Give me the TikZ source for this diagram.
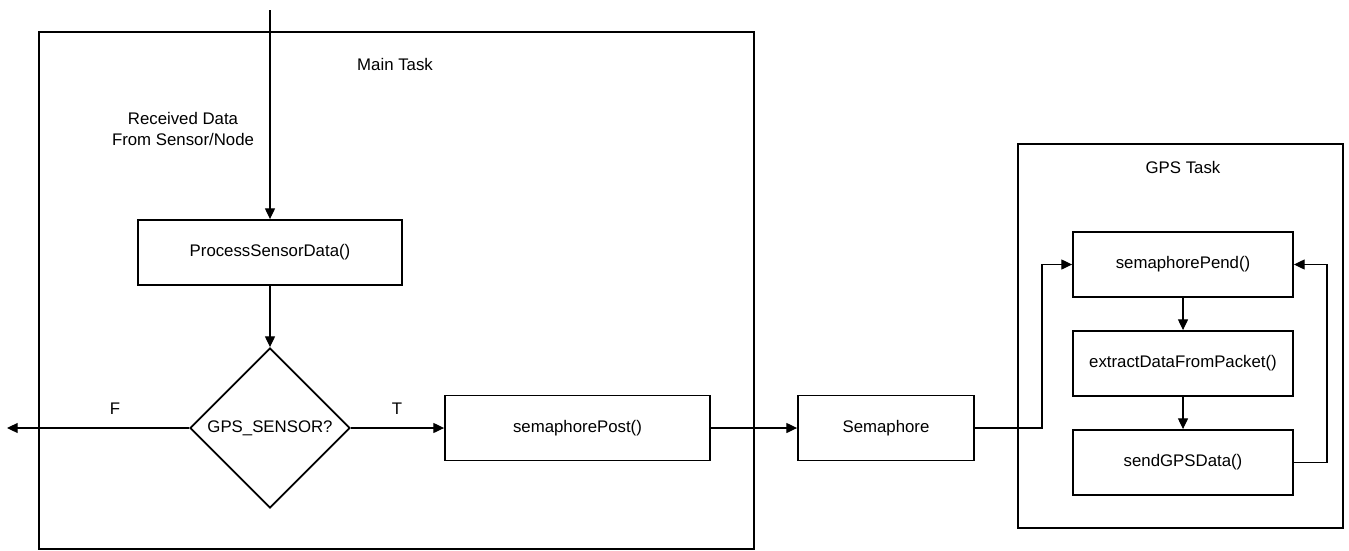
\documentclass[tikz,border=0pt]{standalone}
\usepackage{fontspec}
\setmainfont{Liberation Sans}
\usetikzlibrary{shapes.geometric,arrows.meta}
\begin{document}
\begin{tikzpicture}[x=0.75pt,y=-0.75pt,
  every node/.style={font=\fontsize{12.6}{15.75}\selectfont},
  frame/.style={draw,line width=1.4pt},
  procbox/.style={draw,line width=1.4pt,rectangle,inner sep=0pt,minimum width=198pt,minimum height=48.75pt},
  smallbox/.style={draw,line width=1.4pt,rectangle,inner sep=0pt,minimum width=165pt,minimum height=48.75pt},
  decision/.style={draw,line width=1.4pt,diamond,inner sep=0pt,minimum width=120pt,minimum height=120pt},
  conn/.style={line width=0.8pt,-{Triangle[length=8pt,width=7.5pt]}},
  lbl/.style={inner sep=0pt}
]
\useasboundingbox (0,0) rectangle (1349,550);
% task frames
\draw[frame] (39,32) rectangle (754,549);
\draw[frame] (1018,144) rectangle (1343,528);
\node[lbl] (maintask) at (395,64) {Main Task};
\node[lbl] (gpstask) at (1183,167) {GPS Task};
\node[lbl,align=center] (recv) at (183,128.5) {Received Data\\From Sensor/Node};
% nodes
\node[procbox] (proc) at (270,252.5) {ProcessSensorData()};
\node[decision] (dec) at (270,428) {GPS\_SENSOR?};
\node[procbox,minimum width=198.75pt] (post) at (577.5,428) {semaphorePost()};
\node[procbox,minimum width=132pt] (sem) at (886,428) {Semaphore};
\node[smallbox] (pend) at (1183,264.5) {semaphorePend()};
\node[smallbox] (extract) at (1183,363.5) {extractDataFromPacket()};
\node[smallbox] (send) at (1183,462.5) {sendGPSData()};
% coordinates
\coordinate (top) at (270,10);
\coordinate (fend) at (7,428);
\coordinate (j1) at (1042,428);
\coordinate (j2) at (1042,264.5);
\coordinate (l1) at (1327,462.5);
\coordinate (l2) at (1327,264.5);
% connectors
\draw[conn] (top) -- (proc.north);
\draw[conn] (proc.south) -- (dec.north);
\draw[conn] (dec.west) -- (fend);
\draw[conn] (dec.east) -- (post.west);
\draw[conn] (post.east) -- (sem.west);
\draw[conn] (sem.east) -- (j1) -- (j2) -- (pend.west);
\draw[conn] (pend.south) -- (extract.north);
\draw[conn] (extract.south) -- (send.north);
\draw[conn] (send.east) -- (l1) -- (l2) -- (pend.east);
\node[lbl] (flbl) at (115,409) {F};
\node[lbl] (tlbl) at (397,409) {T};
\end{tikzpicture}
\end{document}
